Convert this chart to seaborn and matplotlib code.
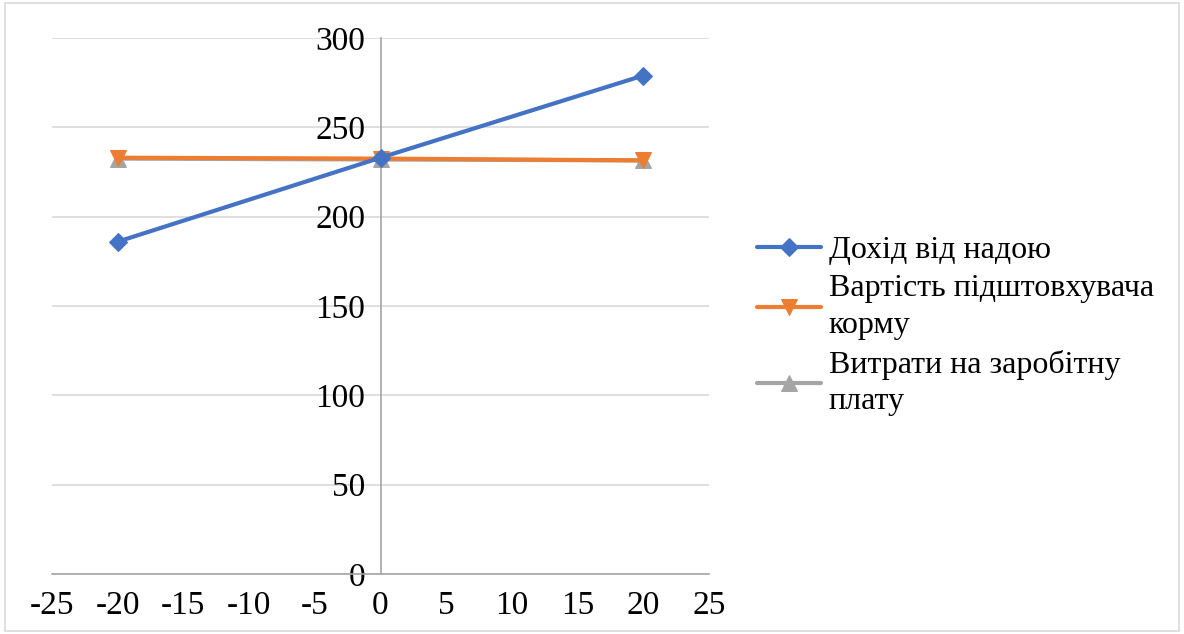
import pandas as pd
import seaborn as sns
import matplotlib.pyplot as plt
from matplotlib.patches import Rectangle

# дані з графіка
x_vals = [-20, 0, 20]
dokhid = [186, 233, 279]
vartist = [233, 232.5, 231.5]
vytraty = [232.5, 232, 231.5]

labels = ["Дохід від надою", "Вартість підштовхувача\nкорму", "Витрати на заробітну\nплату"]
colors = ["#4472C4", "#ED7D31", "#A5A5A5"]
markers = ["D", "v", "^"]

sns.set_style("white")
plt.rcParams['font.family'] = ['Liberation Serif', 'DejaVu Serif']
plt.rcParams['axes.unicode_minus'] = False
plt.rcParams['text.color'] = 'black'

fig = plt.figure(figsize=(11.84, 6.34), dpi=100)
ax = fig.add_axes([52 / 1184, 1 - 574 / 634, (709 - 52) / 1184, (574 - 38) / 634])

series = [dokhid, vartist, vytraty]
zorders = [5, 4, 3]
for vals, lab, col, mk, z in zip(series, labels, colors, markers, zorders):
    df = pd.DataFrame({"x": x_vals, "y": vals})
    sns.lineplot(data=df, x="x", y="y", ax=ax, color=col, marker=mk, markersize=9 if mk == "D" else 11,
                 markeredgecolor=col, linewidth=3, label=lab, zorder=z)

ax.set_xlim(-25, 25)
ax.set_ylim(0, 300)
ax.set_xticks(range(-25, 26, 5))
ax.set_yticks(range(0, 301, 50))
ax.set_xlabel("")
ax.set_ylabel("")

ax.yaxis.grid(True, color="#D9D9D9", linewidth=1.2)
ax.xaxis.grid(False)
ax.set_axisbelow(True)

ax.spines['left'].set_position(('data', 0))
ax.spines['bottom'].set_position(('data', 0))
for s in ['top', 'right']:
    ax.spines[s].set_visible(False)
for s in ['left', 'bottom']:
    ax.spines[s].set_color("#A6A6A6")
    ax.spines[s].set_linewidth(1.2)

ax.tick_params(axis='x', direction='out', length=9, width=1.2, color="#A6A6A6",
               labelcolor="black", labelsize=24, pad=3)
ax.tick_params(axis='y', length=0, labelcolor="black", labelsize=24, pad=11)

handles, labs = ax.get_legend_handles_labels()
leg = ax.legend(handles, labs, loc="center left", bbox_to_anchor=(757 / 1184, 1 - 326 / 634),
                bbox_transform=fig.transFigure, frameon=False, fontsize=23, handlelength=2.0,
                handletextpad=0.25, labelspacing=0.3, borderpad=0, borderaxespad=0)
for t in leg.get_texts():
    t.set_linespacing(1.35)
    t.set_color("black")

fig.patches.append(Rectangle((0.004, 0.004), 0.992, 0.992, transform=fig.transFigure,
                             fill=False, edgecolor="#D9D9D9", linewidth=1.2))

fig.savefig("out.png", dpi=100)
